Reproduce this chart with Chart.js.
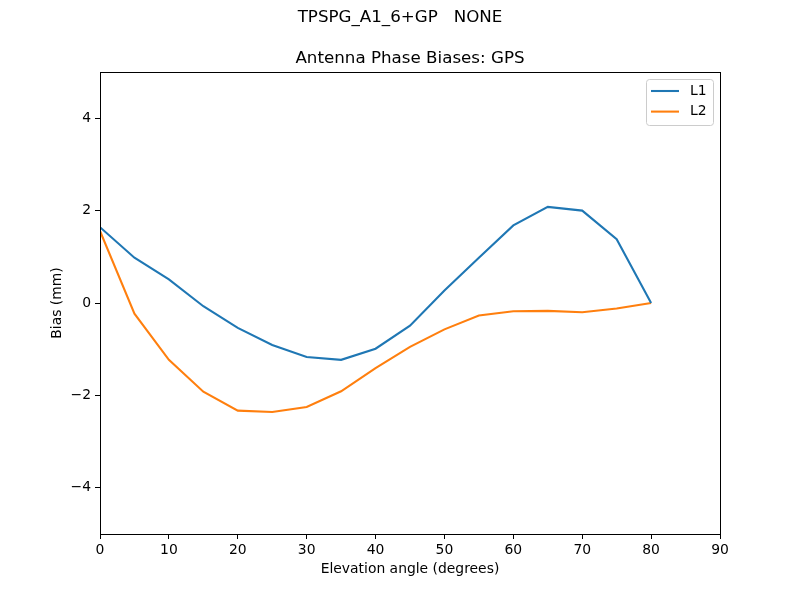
<!DOCTYPE html>
<html>
<head>
<meta charset="utf-8">
<script src="https://cdn.jsdelivr.net/npm/chart.js@4/dist/chart.umd.min.js"></script>
<style>
  html, body { margin: 0; padding: 0; background: #fff; }
  #wrap { width: 800px; height: 600px; position: relative; }
</style>
</head>
<body>
<div id="wrap"><canvas id="c" width="800" height="600"></canvas></div>
<script>
const elevation = [0, 5, 10, 15, 20, 25, 30, 35, 40, 45, 50, 55, 60, 65, 70, 75, 80];
const l1Bias = [1.64, 0.98, 0.51, -0.07, -0.54, -0.91, -1.17, -1.23, -0.99, -0.49, 0.27, 0.98, 1.68, 2.08, 2.0, 1.38, 0.0];
const l2Bias = [1.56, -0.23, -1.23, -1.92, -2.33, -2.36, -2.25, -1.91, -1.41, -0.95, -0.57, -0.27, -0.18, -0.17, -0.2, -0.12, 0.0];
const seriesNames = ['L1', 'L2'];
const yTickValues = [-4, -2, 0, 2, 4];
const xTickStep = 10;
const suptitleText = 'TPSPG_A1_6+GP   NONE';
const axesTitleText = 'Antenna Phase Biases: GPS';
const xLabelText = 'Elevation angle (degrees)';
const yLabelText = 'Bias (mm)';

const FONT = "'DejaVu Sans', sans-serif";
const colors = ['#1f77b4', '#ff7f0e'];

const toPts = (ys) => elevation.map((x, i) => ({ x: x, y: ys[i] }));

const decor = {
  id: 'decor',
  afterDraw(chart) {
    const ctx = chart.ctx;
    const a = chart.chartArea;
    ctx.save();
    // frame
    ctx.strokeStyle = '#000';
    ctx.lineWidth = 1;
    ctx.strokeRect(Math.round(a.left) + 0.5, Math.round(a.top) + 0.5, Math.round(a.right - a.left), Math.round(a.bottom - a.top));
    ctx.fillStyle = '#000';
    ctx.textAlign = 'center';
    ctx.textBaseline = 'middle';
    ctx.font = '16.7px ' + FONT;
    ctx.fillText(suptitleText, 400, 18);
    ctx.fillText(axesTitleText, (a.left + a.right) / 2, 59);
    ctx.font = '13.9px ' + FONT;
    ctx.fillText(xLabelText, (a.left + a.right) / 2, 569);
    ctx.save();
    ctx.translate(57, (a.top + a.bottom) / 2);
    ctx.rotate(-Math.PI / 2);
    ctx.fillText(yLabelText, 0, 0);
    ctx.restore();
    // legend
    const bx = 646.5, by = 79.5, bw = 67, bh = 46;
    ctx.fillStyle = 'rgba(255,255,255,0.8)';
    ctx.strokeStyle = '#cccccc';
    ctx.lineWidth = 1;
    ctx.beginPath();
    if (ctx.roundRect) ctx.roundRect(bx, by, bw, bh, 3); else ctx.rect(bx, by, bw, bh);
    ctx.fill();
    ctx.stroke();
    ctx.textAlign = 'left';
    ctx.font = '13.9px ' + FONT;
    seriesNames.forEach((n, i) => {
      const y = 91 + i * 20.6;
      ctx.strokeStyle = colors[i];
      ctx.lineWidth = 2.08;
      ctx.beginPath();
      ctx.moveTo(651, y);
      ctx.lineTo(679, y);
      ctx.stroke();
      ctx.fillStyle = '#000';
      ctx.fillText(n, 690, y);
    });
    ctx.restore();
  }
};

new Chart(document.getElementById('c'), {
  type: 'line',
  data: {
    datasets: [
      { label: seriesNames[0], data: toPts(l1Bias), borderColor: colors[0], borderWidth: 2.08, pointRadius: 0, tension: 0, fill: false },
      { label: seriesNames[1], data: toPts(l2Bias), borderColor: colors[1], borderWidth: 2.08, pointRadius: 0, tension: 0, fill: false }
    ]
  },
  options: {
    responsive: false,
    animation: false,
    devicePixelRatio: 1,
    layout: { padding: { left: 0, top: 72, right: 80, bottom: 0 } },
    plugins: { legend: { display: false }, title: { display: false }, tooltip: { enabled: false } },
    scales: {
      x: {
        type: 'linear', min: 0, max: 90,
        ticks: { stepSize: xTickStep, color: '#000', font: { family: FONT, size: 13.9 }, padding: 3, maxRotation: 0 },
        grid: { display: true, drawOnChartArea: false, drawTicks: true, tickLength: 5, color: '#000', tickWidth: 1 },
        border: { display: true, color: '#000', width: 1 },
        afterFit(s) { s.height = 66; }
      },
      y: {
        type: 'linear', min: -5, max: 5,
        afterBuildTicks(s) { s.ticks = yTickValues.map(v => ({ value: v })); },
        ticks: {
          color: '#000', font: { family: FONT, size: 13.9 }, padding: 4,
          callback: (v) => String(v).replace('-', '\u2212')
        },
        grid: { display: true, drawOnChartArea: false, drawTicks: true, tickLength: 5, color: '#000', tickWidth: 1 },
        border: { display: true, color: '#000', width: 1 },
        afterFit(s) { s.width = 100; }
      }
    }
  },
  plugins: [decor]
});
</script>
</body>
</html>
